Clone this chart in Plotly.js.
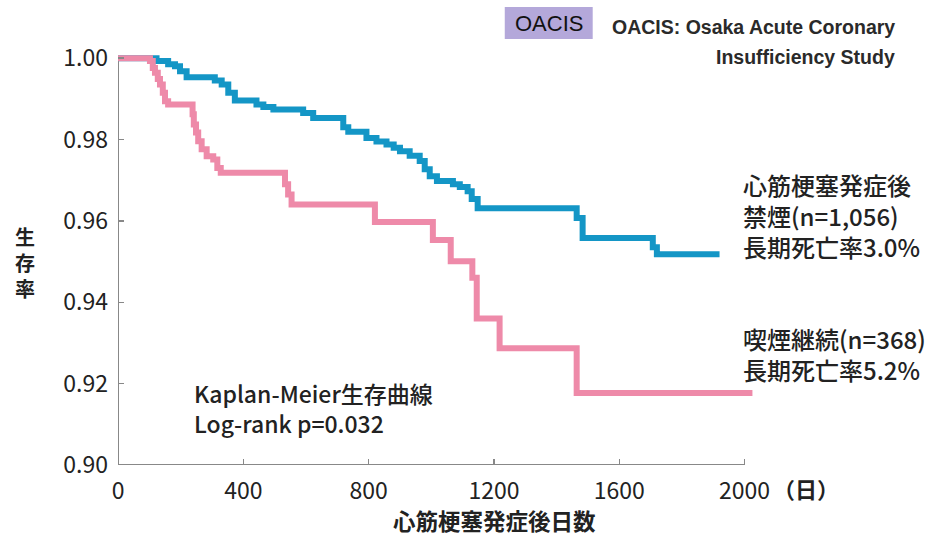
<!DOCTYPE html>
<html><head><meta charset="utf-8">
<script src="https://cdn.plot.ly/plotly-3.0.1.min.js"></script>
<style>html,body{margin:0;padding:0;background:#fff}</style>
</head><body>
<div id="chart" style="width:936px;height:535px"></div>
<script>
// 禁煙 (quit smoking) group — Kaplan-Meier steps
const quitDays = [0,123,160,182,198,219,309,331,352,373,442,464,496,591,623,719,735,793,825,857,880,900,931,963,979,995,1018,1069,1091,1116,1129,1148,1464,1483,1707,1720,1920];
const quitSurv = [1.0,0.9993,0.9985,0.998,0.9968,0.9953,0.9945,0.9935,0.9915,0.9896,0.9886,0.988,0.9874,0.9865,0.9853,0.983,0.9819,0.9804,0.9795,0.9788,0.978,0.9771,0.976,0.9747,0.9727,0.971,0.9698,0.969,0.9683,0.9673,0.9654,0.9631,0.9607,0.9558,0.9535,0.9518,0.9518];
// 喫煙継続 (continued smoking) group
const contDays = [0,102,111,118,127,134,143,150,160,238,242,249,256,267,283,304,317,328,533,543,554,820,1005,1062,1131,1145,1218,1464,2025];
const contSurv = [1.0,0.9993,0.9976,0.9964,0.9949,0.9935,0.9915,0.9894,0.9886,0.9862,0.9837,0.9817,0.9796,0.9776,0.9759,0.9751,0.973,0.9718,0.969,0.9665,0.964,0.9597,0.9553,0.9501,0.946,0.936,0.9287,0.9177,0.9177];
const xTicks = [0,400,800,1200,1600,2000];
const yTicks = [0.90,0.92,0.94,0.96,0.98,1.00];

const L=118, T=49.9, W=636.4, H=415.1;
const px = v => (v - L)/W;
const py = v => (T + H - v)/H;
const JP = '"Noto Sans CJK JP", "Noto Sans", sans-serif';
const LAT = '"Liberation Sans", Arial, sans-serif';

const traces = [
  {x: quitDays, y: quitSurv, mode:'lines', line:{shape:'hv', color:'#1496c6', width:6}, hoverinfo:'skip'},
  {x: contDays, y: contSurv, mode:'lines', line:{shape:'hv', color:'#ee8aa9', width:6}, hoverinfo:'skip'}
];

function ann(text, x, y, font, opts){
  return Object.assign({text:text, xref:'paper', yref:'paper', x:px(x), y:py(y), showarrow:false,
    xanchor:'left', yanchor:'middle', align:'left', font:font}, opts||{});
}
const jpR = s => ({family:JP, size:s, color:'#222', weight:500});
const jpB = s => ({family:JP, size:s, color:'#222', weight:'bold'});

const layout = {
  width:936, height:535,
  margin:{l:L, r:936-L-W, t:T, b:535-T-H, pad:0},
  paper_bgcolor:'#fff', plot_bgcolor:'#fff',
  showlegend:false,
  xaxis:{range:[0,2030], tickvals:xTicks, ticktext:xTicks.map(String), showline:false, zeroline:false, showgrid:false,
    ticks:'inside', ticklen:6, tickwidth:1.5, tickcolor:'#888', ticklabelstandoff:10,
    tickfont:{family:JP, size:23, color:'#222'}},
  yaxis:{range:[0.9,1.002], tickvals:yTicks, ticktext:yTicks.map(v=>v.toFixed(2)), showline:false, zeroline:false, showgrid:false,
    ticks:'inside', ticklen:6, tickwidth:1.5, tickcolor:'#888', ticklabelstandoff:9,
    tickfont:{family:JP, size:23, color:'#222'}},
  shapes:[
    {type:'line', xref:'x', yref:'y', x0:0, x1:2000, y0:0.9, y1:0.9, line:{color:'#888', width:2}, layer:'below'},
    {type:'line', xref:'x', yref:'y', x0:0, x1:0, y0:0.9, y1:1.0, line:{color:'#888', width:2}, layer:'below'},
    {type:'rect', xref:'paper', yref:'paper', x0:px(505), x1:px(593), y0:py(39), y1:py(7), fillcolor:'#b4a8da', line:{width:0}}
  ],
  annotations:[
    ann('OACIS', 549, 23, {family:LAT, size:22, color:'#111'}, {xanchor:'center'}),
    ann('OACIS: Osaka Acute Coronary', 897, 27, {family:LAT, size:19.5, color:'#2a2a2a', weight:'bold'}, {xanchor:'right'}),
    ann('Insufficiency Study', 897, 57, {family:LAT, size:19.5, color:'#2a2a2a', weight:'bold'}, {xanchor:'right'}),
    ann('心筋梗塞発症後<br>禁煙(n=1,056)<br>長期死亡率3.0%', 741, 215, jpR(24)),
    ann('喫煙継続(n=368)<br>長期死亡率5.2%', 741, 354, jpR(24)),
    ann('Kaplan-Meier生存曲線<br>Log-rank p=0.032', 192, 407.5, jpR(23)),
    ann('（日）', 771, 488, jpB(22)),
    ann('心筋梗塞発症後日数', 495, 520, jpB(22.5), {xanchor:'center'}),
    ann('生<br>存<br>率', 25, 262, jpB(20), {xanchor:'center', align:'center'})
  ]
};
Plotly.newPlot('chart', traces, layout, {staticPlot:true, displayModeBar:false});
</script>
</body></html>
